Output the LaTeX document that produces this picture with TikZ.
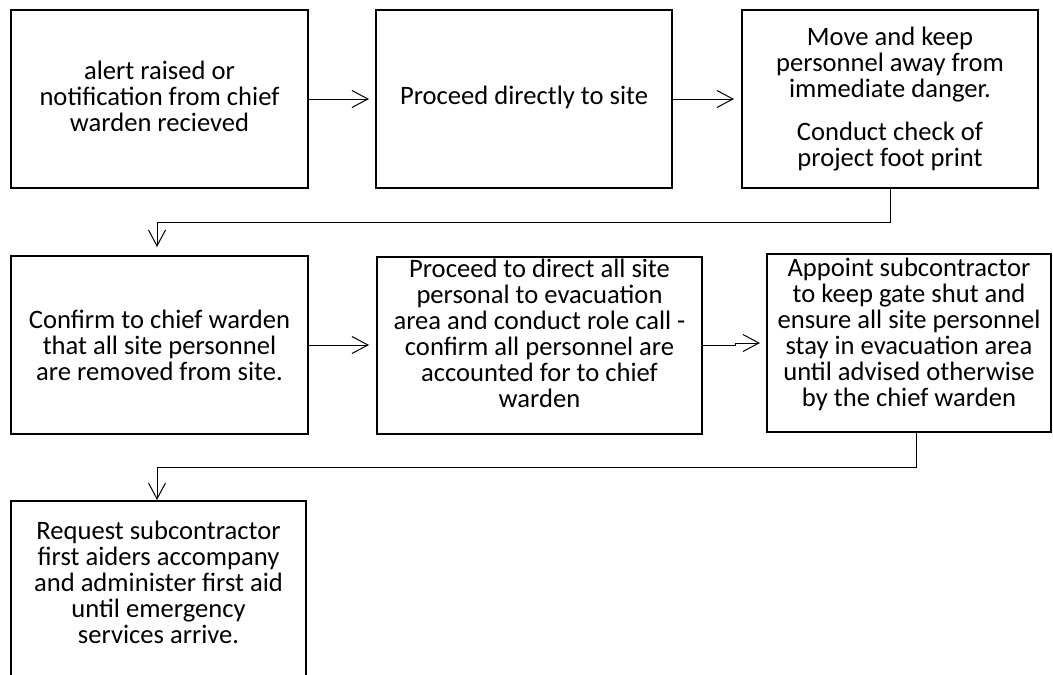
\documentclass[tikz,border=0pt]{standalone}
\usepackage{fontspec}
\setmainfont{Carlito}
\usetikzlibrary{arrows.meta,calc}

\tikzset{
  box/.style={draw, rectangle, line width=2.5pt, inner sep=0pt, outer sep=0pt},
  txt/.style={align=center, inner sep=0pt,
    font=\fontsize{26.6}{26}\selectfont,
    execute at begin node=\strut, execute at end node=\strut},
  conn/.style={line width=1pt,
    -{Straight Barb[length=16pt,width=17pt,line width=1pt]}}
}

\begin{document}
\begin{tikzpicture}[x=1pt,y=-1pt]
  \fill[white] (0,0) rectangle (1053,675);
  \useasboundingbox (0,0) rectangle (1053,675);
  \clip (0,0) rectangle (1053,675);

  % row 1
  \node[box, minimum width=297pt, minimum height=178pt] (b1) at (159.5,99) {};
  \node[box, minimum width=296pt, minimum height=178pt] (b2) at (524,99) {};
  \node[box, minimum width=296pt, minimum height=178pt] (b3) at (890,99) {};
  % row 2
  \node[box, minimum width=297pt, minimum height=178pt] (b4) at (159.5,345) {};
  \node[box, minimum width=325pt, minimum height=177pt] (b5) at (539.5,345.5) {};
  \node[box, minimum width=284pt, minimum height=178pt] (b6) at (909,343) {};
  % row 3 (runs past the lower edge)
  \node[box, minimum width=295pt, minimum height=189pt] (b7) at (158.5,595.5) {};

  % texts
  \node[txt] (t1) at (159.5,100) {alert raised or\\notification from chief\\warden recieved};
  \node[txt] (t2) at (524,99) {Proceed directly to site};
  \node[txt] (t3) at (890,100.5) {Move and keep\\personnel away from\\immediate danger.\\[17pt]Conduct check of\\project foot print};
  \node[txt] (t4) at (159.5,349) {Confirm to chief warden\\that all site personnel\\are removed from site.};
  \node[txt] (t5) at (539.5,337) {Proceed to direct all site\\personal to evacuation\\area and conduct role call -\\confirm all personnel are\\accounted for to chief\\warden};
  \node[txt] (t6) at (909,336) {Appoint subcontractor\\to keep gate shut and\\ensure all site personnel\\stay in evacuation area\\until advised otherwise\\by the chief warden};
  \node[txt] (t7) at (158.5,586) {Request subcontractor\\first aiders accompany\\and administer first aid\\until emergency\\services arrive.};

  % connectors
  \draw[conn, shorten >=7pt] (b1.east) -- (b2.west);
  \draw[conn, shorten >=8pt] (b2.east) -- (b3.west);
  \draw[conn, shorten >=9pt] (b3.south) -- ++(0,34) -| ([xshift=-2.5pt]b4.north);
  \draw[conn, shorten >=8pt] (b4.east) -- (b4.east -| b5.west);
  \draw[conn, shorten >=7pt] (b5.east) -- ++(33,0) |- (b6.west);
  \draw[conn, shorten >=1pt] ([xshift=7pt]b6.south) -- ++(0,35) -| ([xshift=-1.5pt]b7.north);
\end{tikzpicture}
\end{document}
